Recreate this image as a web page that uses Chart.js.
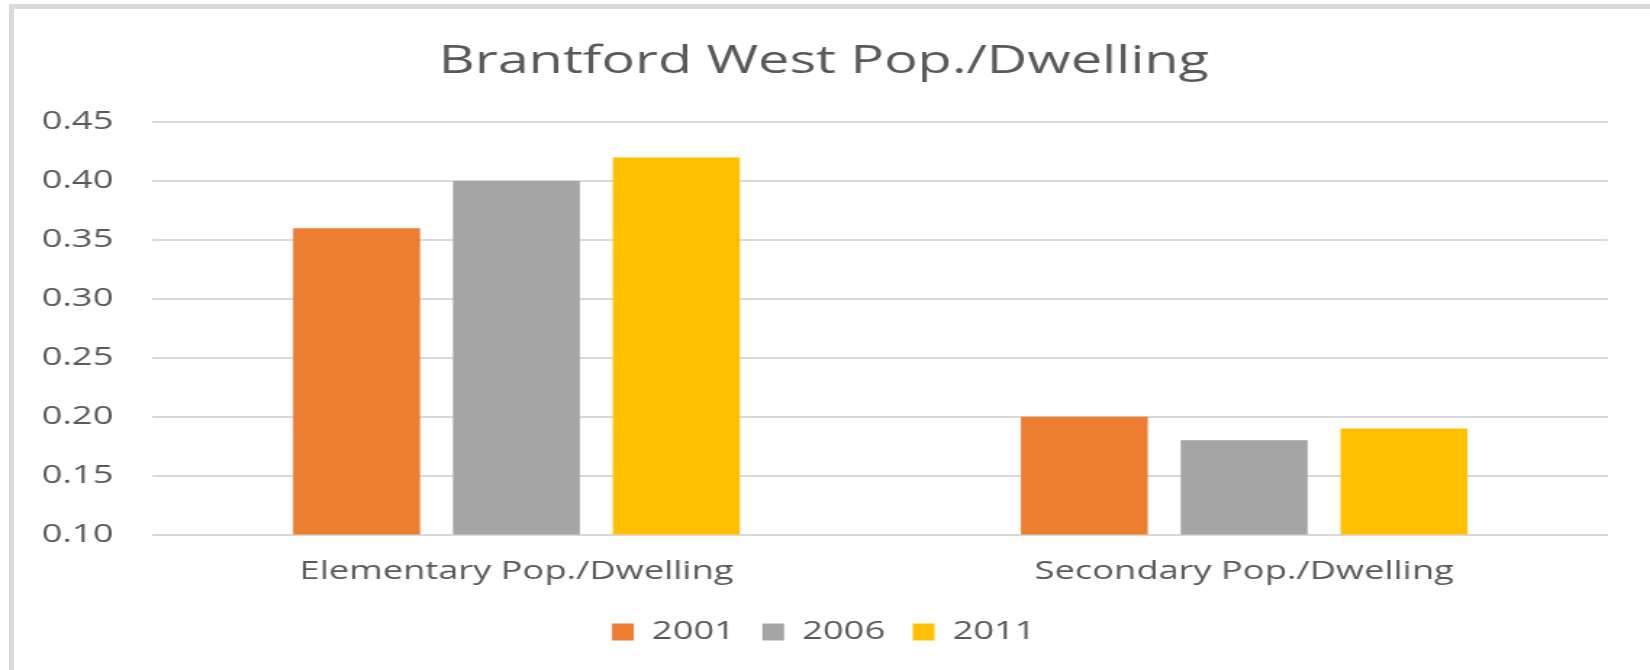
<!DOCTYPE html>
<html>
<head>
<meta charset="utf-8">
<script src="https://cdn.jsdelivr.net/npm/chart.js@4.4.0/dist/chart.umd.min.js"></script>
<style>
  html, body { margin: 0; padding: 0; background: #fff; overflow: hidden; }
  #page { position: relative; width: 1650px; height: 670px; }
  /* card border, only the top and left edges show in the picture */
  #frame { position: absolute; left: 9px; top: 4px; width: 1700px; height: 700px;
           border-top: 5px solid #d9d9d9; border-left: 5px solid #d9d9d9; }
  /* the original is stretched sideways, so the chart is too */
  #wrap { position: absolute; left: 0; top: 0; width: 1138px; height: 670px;
          transform: scaleX(1.45); transform-origin: 0 0; }
</style>
</head>
<body>
<div id="page">
  <div id="frame"></div>
  <div id="wrap"><canvas id="chart"></canvas></div>
</div>
<script>
// data
const categories = ["Elementary Pop./Dwelling", "Secondary Pop./Dwelling"];
const years = ["2001", "2006", "2011"];
const values2001 = [0.36, 0.20];
const values2006 = [0.40, 0.18];
const values2011 = [0.42, 0.19];
const yMin = 0.10;
const yMax = 0.45;
const yStep = 0.05;

const colors = ["#ED7D31", "#A5A5A5", "#FFC000"];
const textColor = "#595959";
const font = "'Open Sans', 'DejaVu Sans', sans-serif";

const ctx = document.getElementById("chart").getContext("2d");

const data = {
  labels: categories,
  datasets: [values2001, values2006, values2011].map((vals, i) => ({
    label: years[i],
    data: vals,
    backgroundColor: colors[i],
    borderWidth: 0,
    categoryPercentage: 0.659,
    barPercentage: 0.794,
  })),
};

new Chart(ctx, {
  type: "bar",
  data: data,
  options: {
    responsive: true,
    maintainAspectRatio: false,
    animation: false,
    layout: { padding: { left: 27.2, right: 29, top: 0, bottom: 15.5 } },
    plugins: {
      title: {
        display: true,
        text: "Brantford West Pop./Dwelling",
        color: textColor,
        font: { family: font, size: 38.5, weight: "normal" },
        padding: { top: 39, bottom: 37 },
      },
      legend: {
        position: "bottom",
        labels: {
          color: textColor,
          font: { family: font, size: 25 },
          boxWidth: 15,
          boxHeight: 17,
          padding: 19,
        },
      },
      tooltip: { enabled: false },
    },
    scales: {
      x: {
        grid: { display: false },
        border: { display: false },
        ticks: { color: textColor, font: { family: font, size: 25 }, padding: 14, maxRotation: 0 },
        // the long labels should not push the plot area in from the sides
        afterFit: (scale) => { scale.paddingLeft = 0; scale.paddingRight = 0; },
      },
      y: {
        min: yMin,
        max: yMax,
        grid: { color: "#d9d9d9", lineWidth: 2, drawTicks: false },
        border: { display: false },
        ticks: {
          stepSize: yStep,
          color: textColor,
          font: { family: font, size: 25 },
          padding: 27,
          callback: (v) => v.toFixed(2),
        },
        // just wide enough for the labels, so the plot starts where the original does
        afterFit: (scale) => { scale.width = 78; },
      },
    },
  },
});
</script>
</body>
</html>
